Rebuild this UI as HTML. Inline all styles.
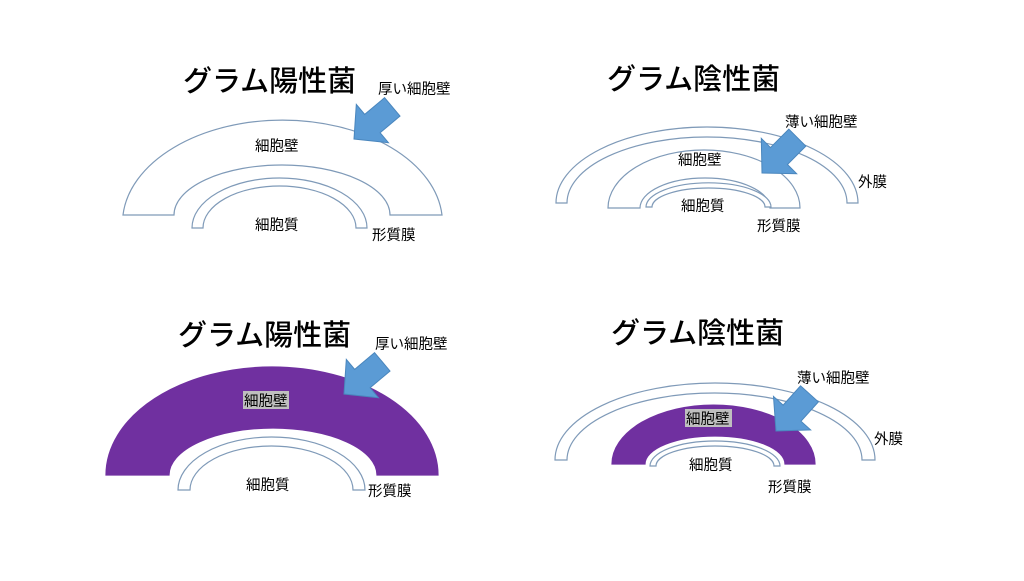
<!DOCTYPE html>
<html><head><meta charset="utf-8"><style>
body{margin:0;width:1024px;height:576px;background:#fff;overflow:hidden}
svg text{font-family:"Liberation Sans","Noto Sans CJK JP",sans-serif;fill:#000}
.t{font-size:29px;font-weight:500}
.l{font-size:14.5px}
</style></head><body>
<svg width="1024" height="576" viewBox="0 0 1024 576">
<defs>
<path id="arr" d="M0,-12 L26,-12 L26,-25 L50,0 L26,25 L26,12 L0,12 Z"/>
</defs>
<g fill="#fff" stroke="#7f9ab8" stroke-width="1.2">
<path d="M123,215 A160,103 0 0 1 442,215 L390,215 A108,50 0 0 0 174,215 Z"/>
<path d="M192,228 A87.5,50 0 0 1 367,228 L356,228 A76.5,42 0 0 0 203,228 Z"/>
<path d="M556,203 A151,76 0 0 1 858,203 L847,203 A140,66 0 0 0 567,203 Z"/>
<path d="M608,208 A96,58 0 0 1 800,208 L770,208 A65,30 0 0 0 640,208 Z"/>
<path d="M646,207 A62,24 0 0 1 771,207 L765,207 A56.5,19 0 0 0 652,207 Z"/>
<path d="M106,475 A166,108 0 0 1 438,475 L377,475 A104,47 0 0 0 169,475 Z" fill="#7030a0" stroke="#7030a0"/>
<path d="M178,490 A93.5,53 0 0 1 365,490 L353,490 A81.5,44 0 0 0 190,490 Z"/>
<path d="M555,460 A160,77 0 0 1 875,460 L862,460 A147.5,67 0 0 0 567,460 Z"/>
<path d="M612,464 A101.5,59 0 0 1 815,464 L785,464 A70,28 0 0 0 645,464 Z" fill="#7030a0" stroke="#7030a0"/>
<path d="M650,466 A65,25 0 0 1 780,466 L774,466 A59,20 0 0 0 656,466 Z"/>
</g>
<g fill="#5b9bd5" stroke="#4a86bd" stroke-width="1">
<use href="#arr" transform="translate(354,139) rotate(-40) scale(-1,1) translate(-50,0)"/>
<use href="#arr" transform="translate(762,173) rotate(-45) scale(-1,1) translate(-50,0)"/>
<use href="#arr" transform="translate(344,394) rotate(-40) scale(-1,1) translate(-50,0)"/>
<use href="#arr" transform="translate(776,431) rotate(-48) scale(-1,1) translate(-50,0)"/>
</g>
<text class="t" x="183" y="91">グラム陽性菌</text>
<text class="t" x="607" y="89">グラム陰性菌</text>
<text class="t" x="178" y="345">グラム陽性菌</text>
<text class="t" x="611" y="343">グラム陰性菌</text>
<g class="l">
<text x="378" y="94">厚い細胞壁</text>
<text x="255" y="151">細胞壁</text>
<text x="255" y="230">細胞質</text>
<text x="372" y="240">形質膜</text>
<text x="785" y="127">薄い細胞壁</text>
<text x="678" y="165">細胞壁</text>
<text x="681" y="211">細胞質</text>
<text x="757" y="231">形質膜</text>
<text x="858" y="187">外膜</text>
<text x="375" y="349">厚い細胞壁</text>
<rect x="243" y="391" width="46" height="18" fill="#bfbfbf"/>
<text x="244" y="406">細胞壁</text>
<text x="246" y="490">細胞質</text>
<text x="368" y="496">形質膜</text>
<text x="797" y="383">薄い細胞壁</text>
<rect x="685" y="409" width="47" height="18" fill="#bfbfbf"/>
<text x="686" y="424">細胞壁</text>
<text x="689" y="470">細胞質</text>
<text x="768" y="492">形質膜</text>
<text x="874" y="444">外膜</text>
</g>
</svg>
</body></html>
